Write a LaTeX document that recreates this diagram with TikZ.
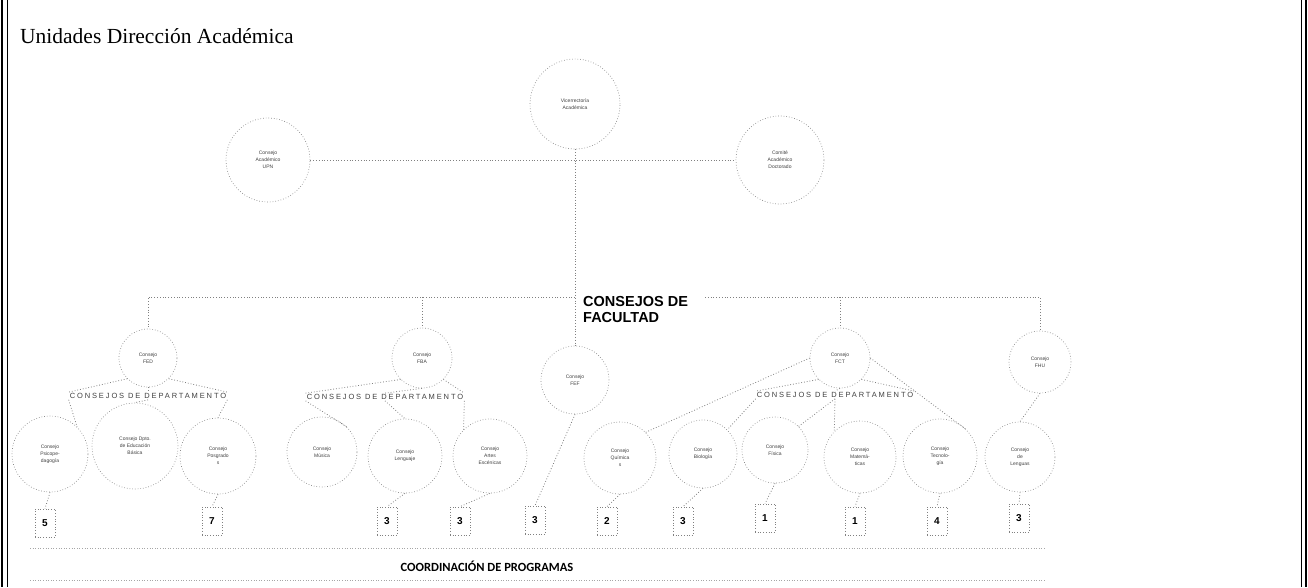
\documentclass[tikz,border=0pt]{standalone}
\usepackage{fontspec}
\setmainfont{Liberation Serif}
\newfontfamily\lsans{Liberation Sans}
\newfontfamily\carl{Carlito}
\newfontfamily\lsansw[LetterSpace=25]{Liberation Sans}
\begin{document}
\begin{tikzpicture}[x=1pt,y=-1pt,
  circ/.style={circle, draw=black!45, dotted, line width=0.7pt, align=center,
    font=\lsans\fontsize{5}{7}\selectfont, text=black!75, inner sep=0pt, minimum size=#1},
  circ/.default=80pt,
  conn/.style={draw=black!50, dotted, line width=0.8pt},
  deplabel/.style={font=\lsansw\fontsize{7.5}{9}\selectfont, text=black!75, inner sep=1pt},
  numbox/.style={draw=black!50, dotted, line width=0.7pt, minimum width=20pt, minimum height=28pt,
    inner sep=0pt, font=\lsans\bfseries\fontsize{10}{12}\selectfont},
  border/.style={draw=black, line width=1.6pt}]
\useasboundingbox (0,0) rectangle (1308,587);
% frame
\draw[border] (2,0) -- (2,587);
\draw[draw=black, line width=0.8pt] (7,0) -- (7,587);
\draw[border] (1306,0) -- (1306,587);
\draw[draw=black, line width=0.8pt] (1301,0) -- (1301,587);
% title
\node[anchor=west, font=\fontsize{21.5}{24}\selectfont, inner sep=0pt] (title) at (20,36) {Unidades Dirección Académica};
% top levels
\node[circ=90pt] (vic) at (575,104) {Vicerrectoría\\Académica};
\node[circ=84pt] (cacad) at (268,160) {Consejo\\Académico\\UPN};
\node[circ=88pt] (cdoc) at (780,160) {Comité\\Académico\\Doctorado};
\draw[conn] (cacad.east) -- (cdoc.west);
% faculties
\node[circ=58pt] (fed) at (148,358) {Consejo\\FED};
\node[circ=60pt] (fba) at (422,358) {Consejo\\FBA};
\node[circ=68pt] (fef) at (575,380) {Consejo\\FEF};
\node[circ=60pt] (fct) at (840,358) {Consejo\\FCT};
\node[circ=62pt] (fhu) at (1040,362) {Consejo\\FHU};
\node[anchor=west, align=left, font=\lsans\bfseries\fontsize{14.5}{16}\selectfont, inner sep=0pt] (cf) at (583,310) {CONSEJOS DE\\FACULTAD};
\coordinate (jl) at (575,297);
\coordinate (jr) at (705,297);
\draw[conn] (vic.south) -- (fef.north);
\draw[conn] (jl) -| (fed.north);
\draw[conn] (fba.north |- jl) -- (fba.north);
\draw[conn] (jr) -| (fhu.north);
\draw[conn] (fct.north |- jr) -- (fct.north);
% department labels
\node[deplabel] (dfed) at (148,396) {CONSEJOS DE DEPARTAMENTO};
\node[deplabel] (dfba) at (385,397) {CONSEJOS DE DEPARTAMENTO};
\node[deplabel] (dfct) at (835,395) {CONSEJOS DE DEPARTAMENTO};
\foreach \f/\d in {fed/dfed,fba/dfba,fct/dfct}{
  \draw[conn] (\f.south west) -- (\d.north west);
  \draw[conn] (\f.south) -- (\d.north);
  \draw[conn] (\f.south east) -- (\d.north east);
}
% department nodes
\node[circ=76pt] (d1) at (50,454) {Consejo\\Psicope-\\dagogía};
\node[circ=86pt] (d2) at (135,446) {Consejo Dpto.\\de Educación\\Básica};
\node[circ=76pt] (d3) at (218,456) {Consejo\\Posgrado\\s};
\node[circ=70pt] (d4) at (322,452) {Consejo\\Música};
\node[circ=74pt] (d5) at (405,456) {Consejo\\Lenguaje};
\node[circ=74pt] (d6) at (490,456) {Consejo\\Artes\\Escénicas};
\node[circ=72pt] (d7) at (620,458) {Consejo\\Química\\s};
\node[circ=68pt] (d8) at (703,454) {Consejo\\Biología};
\node[circ=66pt] (d9) at (775,450) {Consejo\\Física};
\node[circ=72pt] (d10) at (860,457) {Consejo\\Matemá-\\ticas};
\node[circ=74pt] (d11) at (940,456) {Consejo\\Tecnolo-\\gía};
\node[circ=70pt] (d12) at (1020,457) {Consejo\\de\\Lenguas};
\draw[conn] (dfed.south west) -- (d1.north east);
\draw[conn] (dfed.south) -- (d2.north);
\draw[conn] (dfed.south east) -- (d3.north);
\draw[conn] (dfba.south west) -- (d4.north east);
\draw[conn] (dfba.south) -- (d5.north);
\draw[conn] (dfba.south east) -- (d6.north west);
\draw[conn] (fct.west) -- (d7.north east);
\draw[conn] (dfct.south west) -- (d8.north east);
\draw[conn] (dfct.south) -- (d9.north east);
\draw[conn] (dfct.south) -- (d10.north west);
\draw[conn] (fct.east) -- (d11.north east);
\draw[conn] (fhu.south) -- (d12.north);
% number boxes
\node[numbox] (n1) at (45,523) {5};
\node[numbox] (n2) at (212,521) {7};
\node[numbox] (n3) at (387,521) {3};
\node[numbox] (n4) at (460,521) {3};
\node[numbox] (n5) at (535,520) {3};
\node[numbox] (n6) at (607,521) {2};
\node[numbox] (n7) at (683,521) {3};
\node[numbox] (n8) at (765,518) {1};
\node[numbox] (n9) at (855,521) {1};
\node[numbox] (n10) at (937,521) {4};
\node[numbox] (n11) at (1019,518) {3};
\draw[conn] (d1.south) -- (n1.north);
\draw[conn] (d3.south) -- (n2.north);
\draw[conn] (d5.south) -- (n3.north);
\draw[conn] (d6.south) -- (n4.north);
\draw[conn] (fef.south) -- (n5.north);
\draw[conn] (d7.south) -- (n6.north);
\draw[conn] (d8.south) -- (n7.north);
\draw[conn] (d9.south) -- (n8.north);
\draw[conn] (d10.south) -- (n9.north);
\draw[conn] (d11.south) -- (n10.north);
\draw[conn] (d12.south) -- (n11.north);
% coordination
\coordinate (cl1) at (30,548);
\coordinate (cr1) at (1045,548);
\coordinate (cl2) at (30,580);
\coordinate (cr2) at (1045,580);
\draw[draw=black!35, dotted, line width=0.6pt] (cl1) -- (cr1);
\draw[draw=black!35, dotted, line width=0.6pt] (cl2) -- (cr2);
\node[font=\carl\bfseries\fontsize{12.5}{14}\selectfont, inner sep=0pt] (coord) at (487,566) {COORDINACIÓN DE PROGRAMAS};
\end{tikzpicture}
\end{document}
